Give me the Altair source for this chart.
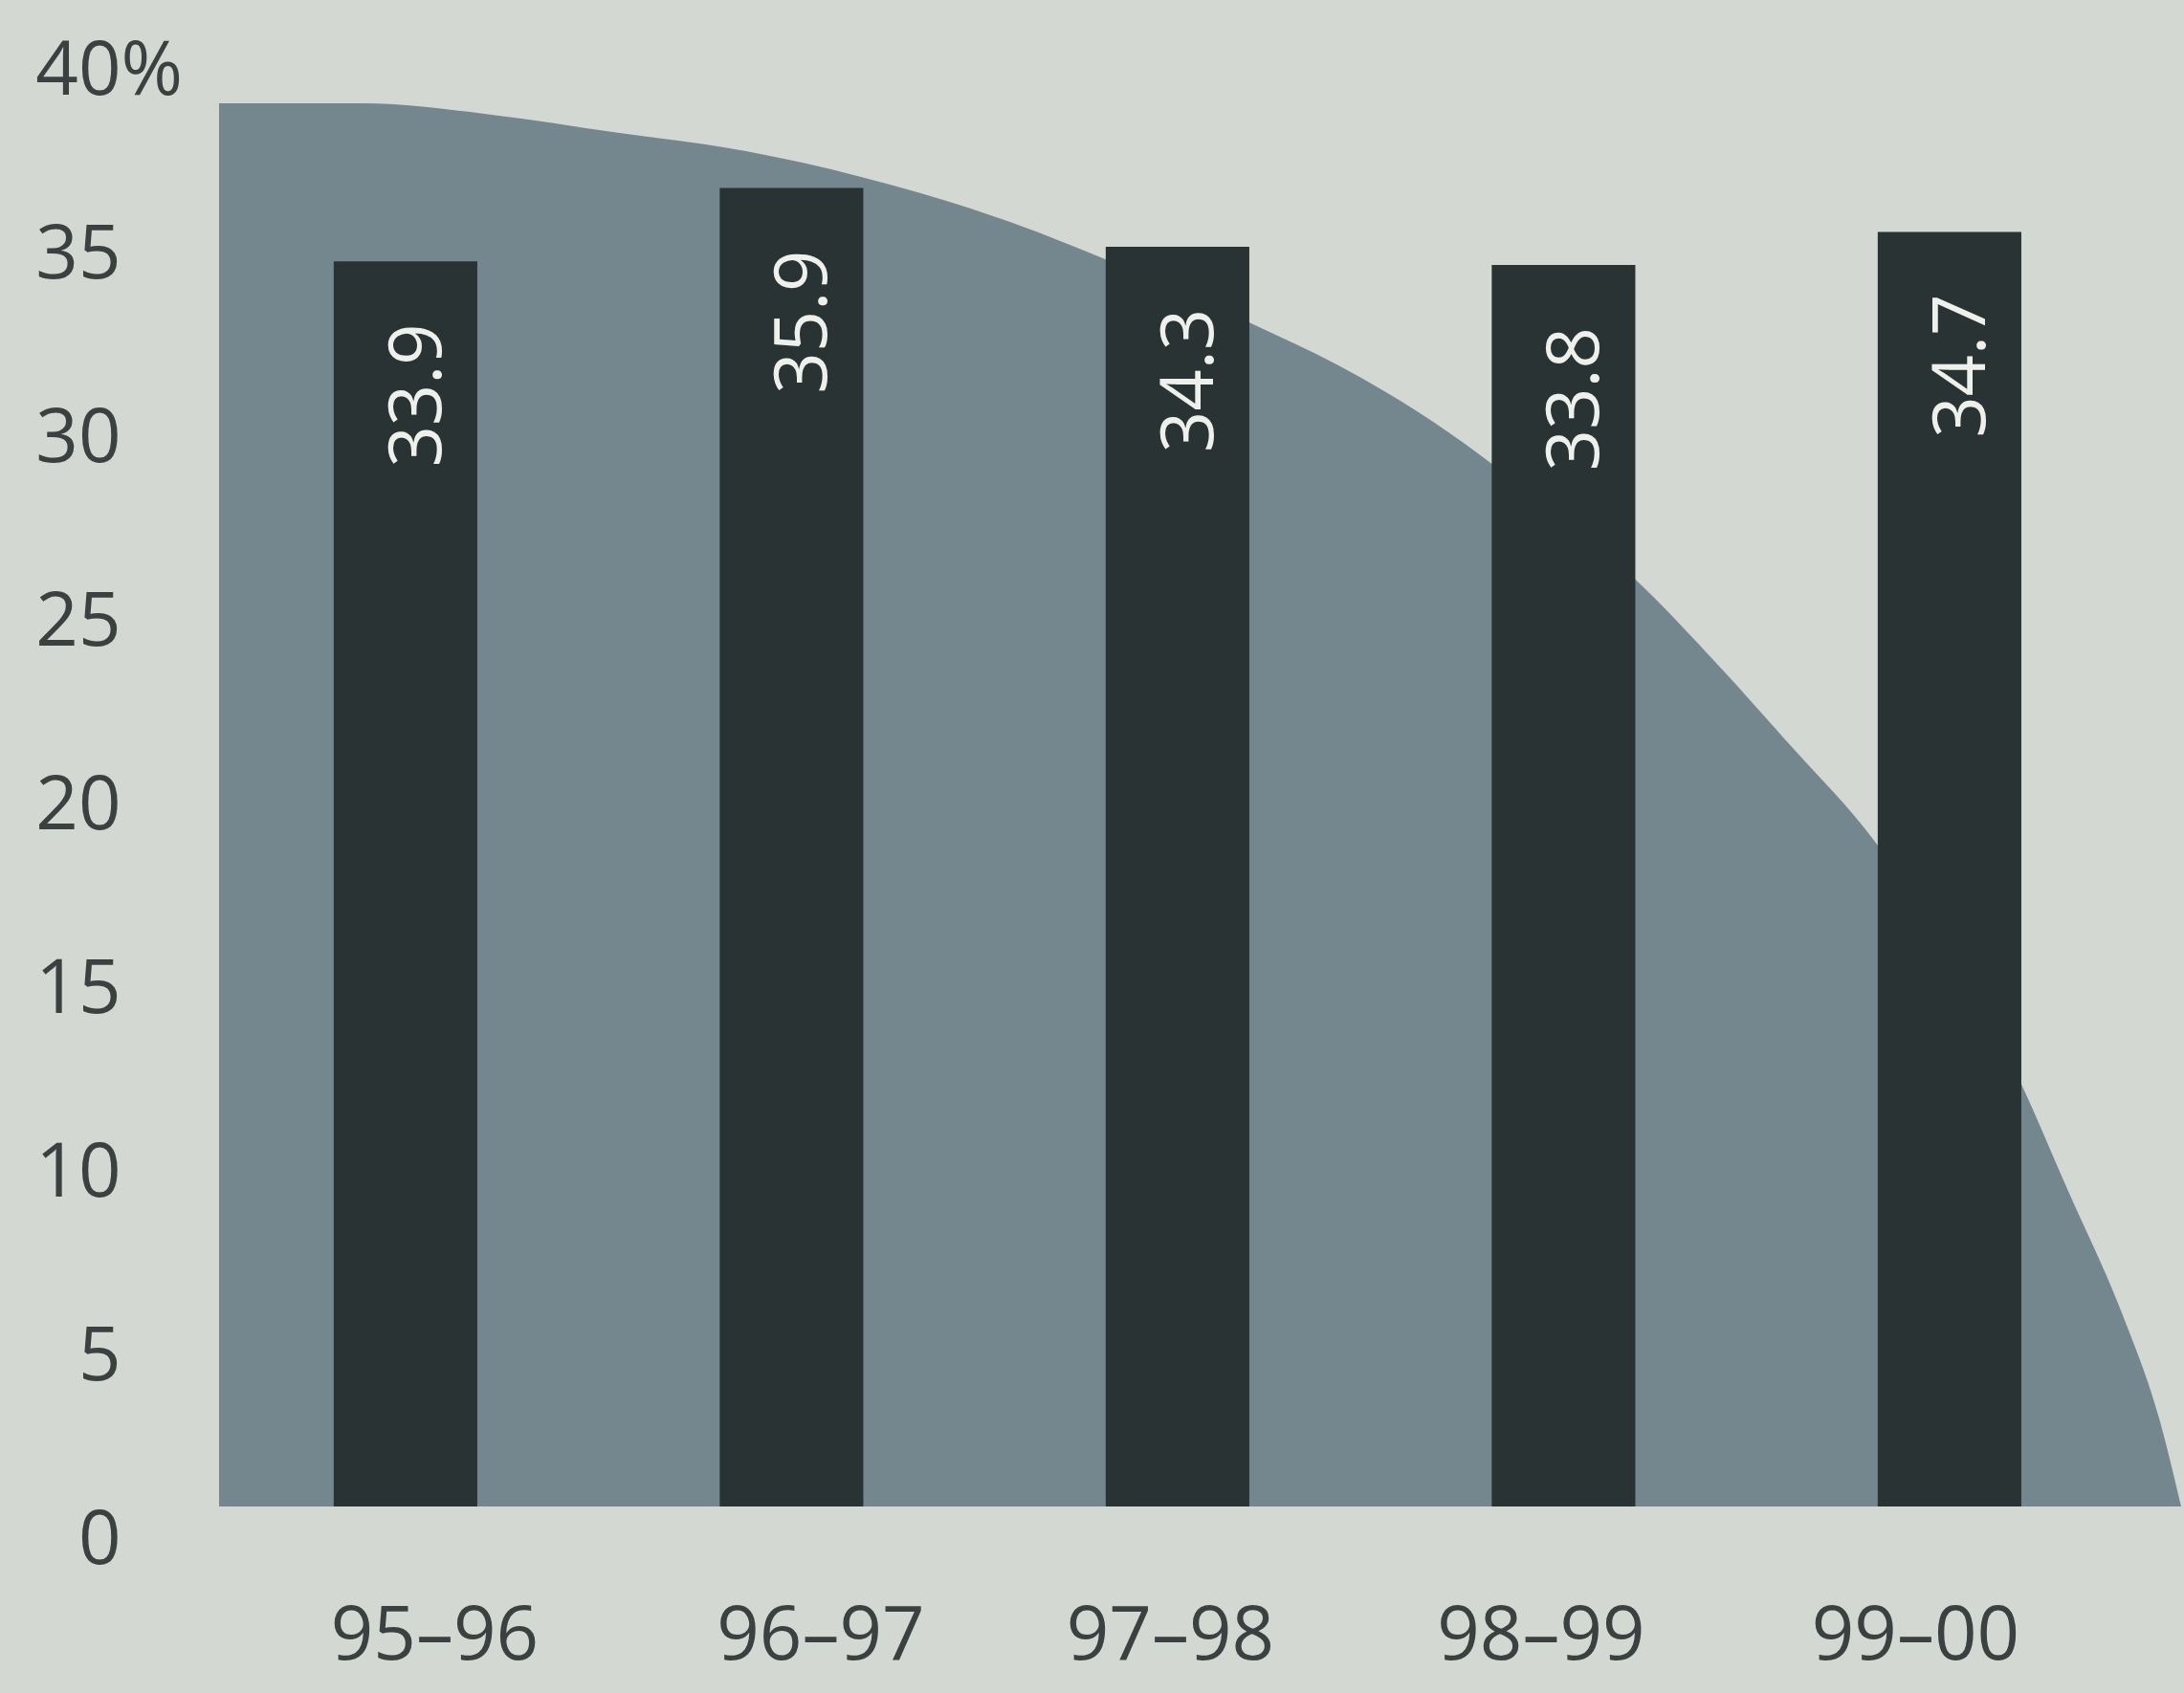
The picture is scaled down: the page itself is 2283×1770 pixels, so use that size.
import altair as alt
import pandas as pd

# categories and values
periods = ["95–96", "96–97", "97–98", "98–99", "99–00"]
shares = [33.9, 35.9, 34.3, 33.8, 34.7]
share_labels = ["33.9", "35.9", "34.3", "33.8", "34.7"]
slot = [0, 1, 2, 3, 4]

# backdrop shape outline (position on category axis, height in %)
shape_pos = [-0.483, -0.112, 0.218, 0.550, 0.882, 1.180, 1.559, 1.814, 2.193, 2.411,
             2.667, 2.813, 3.190, 3.410, 3.581, 3.807, 4.186, 4.307, 4.449, 4.543, 4.600]
shape_val = [38.2, 38.2, 37.9, 37.4, 36.9, 36.2, 35.0, 33.95, 32.2, 31.1,
             29.5, 28.4, 25.2, 22.8, 20.8, 18.1, 11.5, 8.6, 5.2, 2.4, 0.0]

y_ticks = [0, 5, 10, 15, 20, 25, 30, 35, 40]
pct_tick = [40]

bars = pd.DataFrame({"slot": slot, "period": periods, "share": shares, "label": share_labels})
shape = pd.DataFrame({"pos": shape_pos, "val": shape_val})

FONT = "Open Sans"
TXT = "#3b4041"
HALF = 0.186

xscale = alt.Scale(domain=[-0.483, 4.6], nice=False, zero=False)
yscale = alt.Scale(domain=[0, 40], nice=False, zero=True)

# label nudges along the x axis (the printed labels are not exactly under the bars)
x_nudge = [30, 30, -8, -24, -36]
nudge_cond = {
    "condition": [{"test": f"datum.value == {i}", "value": n} for i, n in zip(slot, x_nudge)],
    "value": 0,
}

label_js = "[" + ",".join("'" + p + "'" for p in periods) + "]"
xaxis = alt.Axis(
    values=slot, labelExpr=label_js + "[datum.value]", title=None, grid=False,
    domain=False, ticks=False, tickSize=0, labelFontSize=78, labelFont=FONT,
    labelColor=TXT, labelPadding=136, labelBaseline="middle", labelFlush=False,
    labelLimit=0, labelOverlap=False, labelOffset=nudge_cond,
)
yaxis = alt.Axis(
    values=y_ticks, orient="left", format="d",
    title=None, grid=False, domain=False, ticks=False, tickSize=0, labelFontSize=78,
    labelFont=FONT, labelColor=TXT, labelAlign="right", labelPadding=103,
    labelBaseline="middle", labelOffset=36, labelFlush=False, labelLimit=0,
    labelOverlap=False,
)
pct_axis = alt.Axis(
    values=pct_tick, orient="left", labelExpr="'%'",
    title=None, grid=False, domain=False, ticks=False, tickSize=0, labelFontSize=78,
    labelFont=FONT, labelColor=TXT, labelAlign="left", labelPadding=103,
    labelBaseline="middle", labelOffset=36, labelFlush=False, labelLimit=0,
)

area = alt.Chart(shape).mark_area(color="#74878e", interpolate="monotone").encode(
    x=alt.X("pos:Q", scale=xscale, axis=xaxis),
    y=alt.Y("val:Q", scale=yscale, axis=yaxis),
)

barlayer = alt.Chart(bars).transform_calculate(
    lo=f"datum.slot - {HALF}", hi=f"datum.slot + {HALF}"
).mark_bar(color="#2a3333").encode(
    x=alt.X("lo:Q", scale=xscale, axis=xaxis),
    x2="hi:Q",
    y=alt.Y("share:Q", scale=yscale, axis=None),
    y2=alt.datum(0),
)

text = alt.Chart(bars).mark_text(
    angle=270, align="right", baseline="middle", dx=-65, dy=14,
    font=FONT, fontSize=76, color="#eef0ec",
).encode(
    x=alt.X("slot:Q", scale=xscale, axis=xaxis),
    y=alt.Y("share:Q", scale=yscale, axis=pct_axis),
    text="label:N",
)

chart = alt.layer(area, barlayer, text).resolve_axis(y="independent").properties(
    width=2051, height=1536,
    autosize=alt.AutoSizeParams(type="none"),
    padding={"left": 229, "top": 39, "right": 3, "bottom": 195},
    background="#d4d8d3",
).configure_view(stroke=None)

chart.save("out.html", embed_options={"renderer": "svg", "actions": False})
